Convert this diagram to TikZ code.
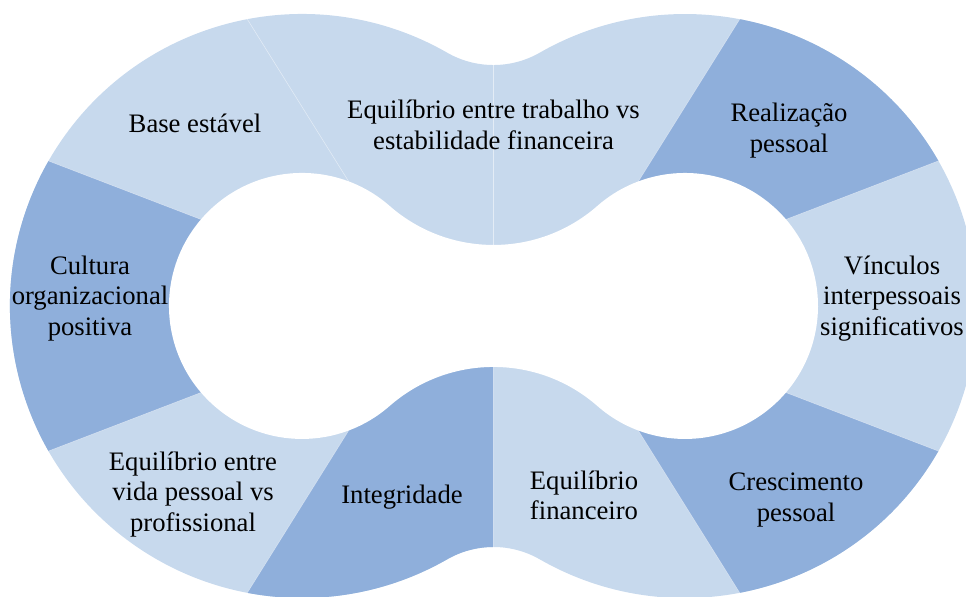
\documentclass[tikz,border=0pt]{standalone}
\usepackage{fontspec}
\setmainfont{Liberation Serif}
\definecolor{ringlight}{RGB}{199,217,237}
\definecolor{ringdark}{RGB}{143,175,219}

\begin{document}
\begin{tikzpicture}[x=0.75pt,y=0.75pt,
  lbl/.style={align=center,font=\fontsize{20}{23}\selectfont,inner sep=0pt},
  seam/.style={white,line width=0.4pt,opacity=0.5}]

\useasboundingbox (-493.5,-290) rectangle (472.5,306);
\clip (-493.5,-290) rectangle (472.5,306);

\begin{scope}
\clip (-46.3,253.3) arc[start angle=60.17,end angle=299.83,radius=292]
  arc[start angle=119.83,end angle=60.17,radius=93]
  arc[start angle=240.17,end angle=479.83,radius=292]
  arc[start angle=299.83,end angle=240.17,radius=93] -- cycle;
\fill[ringlight] (-500,-310) rectangle (500,310);
\fill[ringdark] (-67,0) -- +(159:600) -- +(201:600) -- cycle;
\fill[ringdark] (-67,0) -- +(238:600) -- (0,-600) -- (0,0) -- cycle;
\fill[ringdark] (67,0) -- +(21:600) -- +(58:600) -- cycle;
\fill[ringdark] (67,0) -- +(-58:600) -- +(-21:600) -- cycle;
\foreach \a in {122,159,201,238} \draw[seam] (-67,0) -- +(\a:600);
\foreach \a in {58,21,-21,-58} \draw[seam] (67,0) -- +(\a:600);
\draw[seam] (0,-600) -- (0,600);
\end{scope}

\fill[white] (-103.9,100.1) arc[start angle=48.79,end angle=311.21,radius=133]
  arc[start angle=131.21,end angle=48.79,radius=157.7]
  arc[start angle=228.79,end angle=491.21,radius=133]
  arc[start angle=311.21,end angle=228.79,radius=157.7] -- cycle;

\node[lbl] (base) at (-298.5,183) {Base estável};
\node[lbl] (trabalho) at (0,181) {Equilíbrio entre trabalho vs\\estabilidade financeira};
\node[lbl] (realizacao) at (295.5,175.5) {Realização\\pessoal};
\node[lbl] (vinculos) at (398.5,7.5) {Vínculos\\interpessoais\\significativos};
\node[lbl] (cultura) at (-403.5,7.5) {Cultura\\organizacional\\positiva};
\node[lbl] (vida) at (-300.5,-188.5) {Equilíbrio entre\\vida pessoal vs\\profissional};
\node[lbl] (integridade) at (-91.5,-191) {Integridade};
\node[lbl] (financeiro) at (90.5,-189.5) {Equilíbrio\\financeiro};
\node[lbl] (crescimento) at (302.5,-194) {Crescimento\\pessoal};

\end{tikzpicture}
\end{document}
